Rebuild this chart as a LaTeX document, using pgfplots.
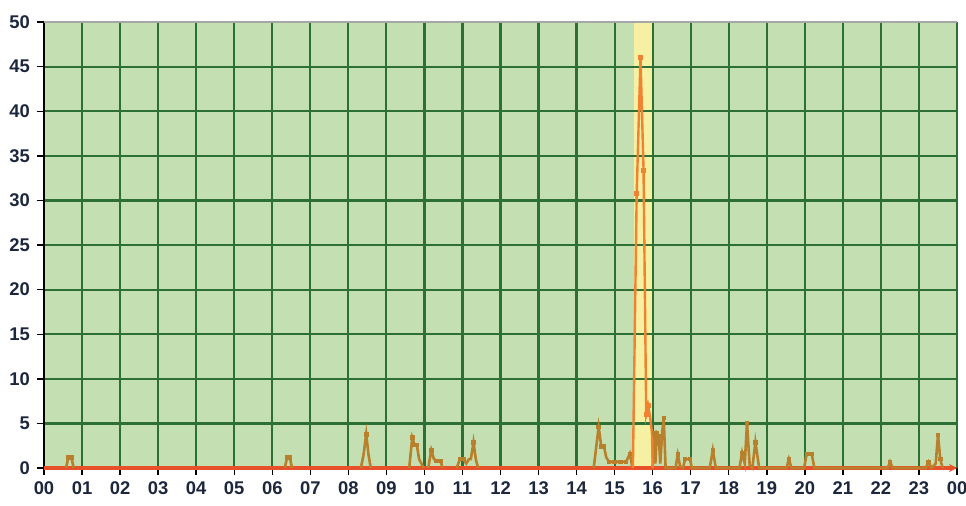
\documentclass[border=0pt]{standalone}
\usepackage{fontspec}
\setmainfont{Liberation Sans}
\usepackage{pgfplots}
\pgfplotsset{compat=1.18}
\usetikzlibrary{arrows.meta}
\definecolor{bggreen}{RGB}{196,224,178}
\definecolor{gridgreen}{RGB}{44,112,52}
\definecolor{bandyellow}{RGB}{246,240,162}
\definecolor{brownline}{RGB}{184,128,42}
\definecolor{orangeline}{RGB}{240,130,50}
\definecolor{redline}{RGB}{232,80,42}
\definecolor{labelcol}{RGB}{28,38,60}
\begin{document}
\begin{tikzpicture}
\begin{axis}[
  set layers,
  scale only axis,
  width=456.5pt, height=223pt,
  xmin=0, xmax=24, ymin=0, ymax=50,
  xtick={0,1,...,24},
  xticklabels={00,01,02,03,04,05,06,07,08,09,10,11,12,13,14,15,16,17,18,19,20,21,22,23,00},
  ytick={0,5,...,50},
  grid=major,
  major grid style={color=gridgreen, line width=1.1pt},
  axis background/.style={fill=bggreen},
  axis line style={draw=none},
  tick align=outside,
  xtick pos=bottom, ytick pos=left,
  major tick length=3.5pt,
  tick style={black, line width=0.7pt},
  ticklabel style={font=\fontsize{9.2}{11}\selectfont\bfseries, text=labelcol},
  yticklabel style={xshift=0pt},
  /pgf/number format/assume math mode=true,
  clip=false,
]
\addplot[fill=bandyellow, draw=none, on layer=axis background] coordinates {(15.5,0) (15.5,50) (16,50) (16,0)} -- cycle;
\draw[black, line width=0.9pt] (rel axis cs:0,0) -- (rel axis cs:0,1);
\draw[gray!70, line width=0.6pt] (rel axis cs:0,1) -- (rel axis cs:1,1);
% red zero baseline
\addplot[redline, line width=1.6pt, -{Stealth[length=4pt,width=4pt]}] coordinates {(0,0) (24,0)};
% brown series (lines)
\pgfplotsset{brownstyle/.style={brownline, line width=1.3pt, mark=none}}
\addplot[brownstyle] coordinates {(0.58,0) (0.64,1.2) (0.72,1.2) (0.78,0)};
\addplot[brownstyle] coordinates {(6.33,0) (6.39,1.2) (6.46,1.2) (6.52,0)};
\addplot[brownstyle] coordinates {(8.33,0) (8.40,1.5) (8.47,3.8) (8.53,1.5) (8.59,0)};
\addplot[brownstyle] coordinates {(9.6,0) (9.68,3.4) (9.74,2.6) (9.8,2.6) (9.86,1.0) (9.92,0.5) (9.98,0)};
\addplot[brownstyle] coordinates {(10.1,0) (10.18,2.0) (10.25,1.0) (10.32,0.8) (10.42,0.8) (10.48,0)};
\addplot[brownstyle] coordinates {(10.85,0) (10.93,1.0) (11.02,1.0) (11.1,0.5) (11.17,1.0) (11.22,1.0) (11.29,2.9) (11.35,1.0) (11.41,0)};
\addplot[brownstyle] coordinates {(14.45,0) (14.58,4.6) (14.65,2.4) (14.72,2.4) (14.78,1.2) (14.85,0.7) (15.0,0.7) (15.15,0.7) (15.3,0.7) (15.4,1.6) (15.47,0)};
\addplot[brownstyle] coordinates {(16.0,0) (16.03,3.9) (16.07,0.5) (16.11,3.9) (16.16,3.6) (16.2,0.5) (16.25,4.0) (16.29,5.6) (16.34,0)
 (16.6,0) (16.66,1.5) (16.72,0.2) (16.8,0) (16.85,1.0) (16.98,1.0) (17.03,0)
 (17.5,0) (17.58,2.0) (17.66,0)
 (18.28,0) (18.35,1.7) (18.42,0.5) (18.48,5.0) (18.55,0.3) (18.62,0) (18.7,2.9) (18.8,0)
 (19.52,0) (19.58,1.0) (19.65,0)
 (19.98,0) (20.05,1.6) (20.18,1.6) (20.25,0)
 (22.18,0) (22.24,0.7) (22.31,0)
 (23.18,0) (23.25,0.7) (23.33,0) (23.44,0.5) (23.5,3.7) (23.56,1.0) (23.62,0)};
% brown markers (non-zero points)
\addplot[only marks, mark=square*, mark size=0.9pt, mark options={fill=brownline, draw=brownline}] coordinates {
 (0.64,1.2) (0.72,1.2) (6.39,1.2) (6.46,1.2) (8.47,3.8)
 (9.68,3.4) (9.74,2.6) (9.8,2.6) (10.18,2.0) (10.32,0.8) (10.42,0.8)
 (10.93,1.0) (11.02,1.0) (11.29,2.9)
 (14.58,4.6) (14.65,2.4) (14.72,2.4) (14.85,0.7) (15.0,0.7) (15.15,0.7) (15.3,0.7) (15.4,1.6)
 (16.03,3.9) (16.11,3.9) (16.16,3.6) (16.29,5.6)
 (16.66,1.5) (16.85,1.0) (16.98,1.0) (17.58,2.0) (18.35,1.7) (18.48,5.0) (18.7,2.9)
 (19.58,1.0) (20.05,1.6) (20.18,1.6) (22.24,0.7) (23.25,0.7) (23.5,3.7) (23.56,1.0)};
% orange peak
\addplot[orangeline, line width=1.2pt, mark=none] coordinates {(15.48,0) (15.58,30.8) (15.68,46) (15.76,33.4) (15.83,6.0) (15.88,7.0) (15.93,5.8) (15.98,4.0) (16.0,0)};
\addplot[only marks, mark=square*, mark size=1.0pt, mark options={fill=orangeline, draw=orangeline}] coordinates {(15.58,30.8) (15.68,46) (15.76,33.4) (15.83,6.0) (15.88,7.0)};
\end{axis}
\pgfresetboundingbox
\path ([xshift=-22pt,yshift=-18.5pt]current axis.south west) rectangle ([xshift=4.5pt,yshift=11pt]current axis.north east);
\end{tikzpicture}
\end{document}
